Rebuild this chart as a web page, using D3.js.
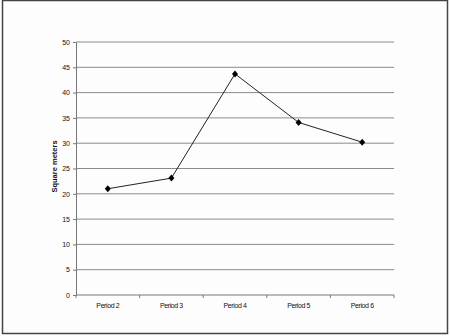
<!DOCTYPE html>
<html>
<head>
<meta charset="utf-8">
<script src="https://cdn.jsdelivr.net/npm/d3@7"></script>
<style>
  body { margin: 0; background: #fff; }
  .axis text { font-family: "Liberation Sans", Arial, sans-serif; font-size: 7px; fill: #111; }
</style>
</head>
<body>
<div class="g-chart"></div>
<script>
var categories = ["Period 2", "Period 3", "Period 4", "Period 5", "Period 6"];
var values = [21.0, 23.1, 43.7, 34.1, 30.2];
var yTicks = [0, 5, 10, 15, 20, 25, 30, 35, 40, 45, 50];

var width = 450, height = 336,
    margin = {top: 42, right: 56, bottom: 41, left: 76};

var svg = d3.select(".g-chart").append("svg")
    .attr("width", width)
    .attr("height", height);

// page frame
svg.append("rect")
    .attr("x", 2.5).attr("y", 0.5)
    .attr("width", 445).attr("height", 333)
    .attr("fill", "#fdfdfd")
    .attr("stroke", "#444")
    .attr("stroke-width", 1.5);

var w = width - margin.left - margin.right,
    h = height - margin.top - margin.bottom;

var g = svg.append("g")
    .attr("transform", `translate(${margin.left},${margin.top})`);

var x = d3.scaleBand().domain(categories).range([0, w]);
var y = d3.scaleLinear().domain([0, 50]).range([h, 0]);

// gridlines
g.selectAll(".grid")
    .data(yTicks.filter(d => d > 0))
    .enter().append("line")
    .attr("class", "grid")
    .attr("x1", 0).attr("x2", w)
    .attr("y1", d => y(d)).attr("y2", d => y(d))
    .attr("stroke", "#8a8a8a")
    .attr("stroke-width", 1);

var yAxis = d3.axisLeft(y).tickValues(yTicks).tickSize(3).tickSizeOuter(0);
g.append("g").attr("class", "axis").call(yAxis)
    .call(s => s.select(".domain").attr("stroke", "#777"))
    .call(s => s.selectAll(".tick line").attr("stroke", "#777"));

// x axis with ticks between categories
var xg = g.append("g").attr("class", "axis")
    .attr("transform", `translate(0,${h})`);
xg.append("line").attr("x1", 0).attr("x2", w).attr("stroke", "#777");
xg.selectAll(".sep")
    .data(categories.concat(["end"]))
    .enter().append("line")
    .attr("x1", (d, i) => i * x.bandwidth())
    .attr("x2", (d, i) => i * x.bandwidth())
    .attr("y1", 0).attr("y2", 3)
    .attr("stroke", "#777");
xg.selectAll(".lab")
    .data(categories)
    .enter().append("text")
    .attr("x", d => x(d) + x.bandwidth() / 2)
    .attr("y", 13)
    .attr("text-anchor", "middle")
    .attr("letter-spacing", "-0.4px")
    .text(d => d);

// y label
svg.append("text")
    .attr("transform", `translate(57,${margin.top + h / 2 - 2}) rotate(-90)`)
    .attr("text-anchor", "middle")
    .style("font-family", "Liberation Sans, Arial, sans-serif")
    .style("font-size", "7.5px")
    .style("font-weight", "bold")
    .style("fill", "#111")
    .text("Square meters");

var line = d3.line()
    .x((d, i) => x(categories[i]) + x.bandwidth() / 2)
    .y(d => y(d));

g.append("path")
    .datum(values)
    .attr("fill", "none")
    .attr("stroke", "#222")
    .attr("stroke-width", 1)
    .attr("d", line);

g.selectAll(".pt")
    .data(values)
    .enter().append("path")
    .attr("class", "pt")
    .attr("transform", (d, i) => `translate(${x(categories[i]) + x.bandwidth() / 2},${y(d)})`)
    .attr("d", "M0,-3.5L3,0L0,3.5L-3,0Z")
    .attr("fill", "#000");
</script>
</body>
</html>
